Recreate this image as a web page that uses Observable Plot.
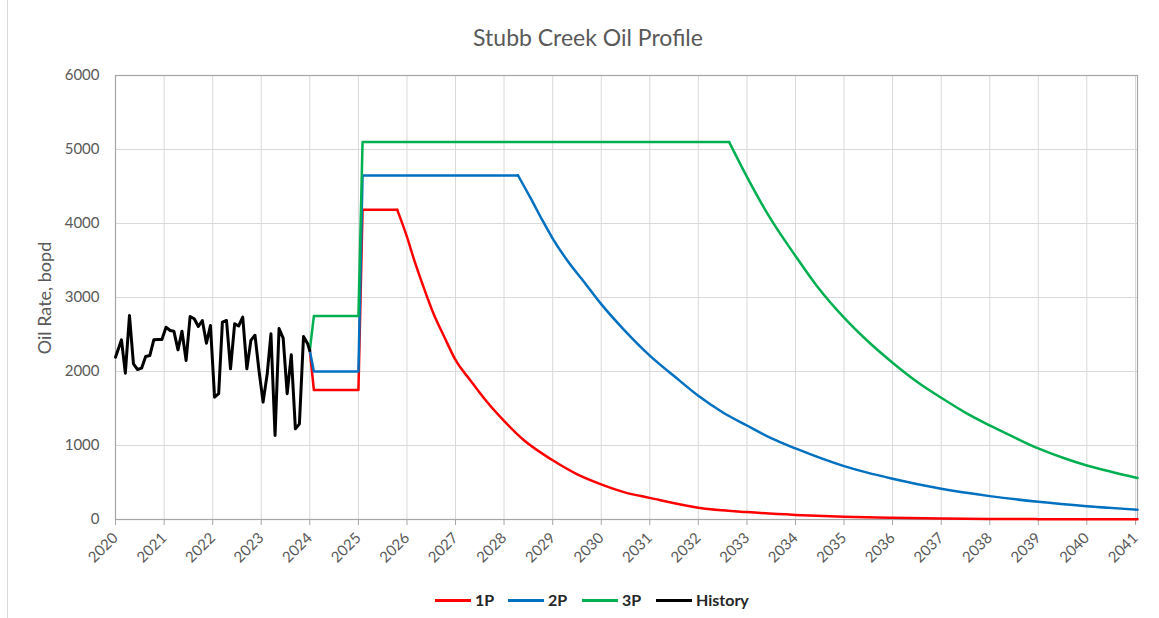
<!DOCTYPE html>
<html>
<head>
<meta charset="utf-8">
<script src="https://cdn.jsdelivr.net/npm/d3@7"></script>
<script src="https://cdn.jsdelivr.net/npm/@observablehq/plot@0.6"></script>
<style>
  html, body { margin: 0; padding: 0; background: #ffffff; }
  #chart { position: relative; width: 1159px; height: 618px; overflow: hidden; font-family: Lato, "Open Sans", sans-serif; background: #fff; }
  #title { position: absolute; left: 0; top: 23px; width: 1176px; text-align: center; font-size: 23px; color: #595959; line-height: normal; }
  #plot { position: absolute; left: 0; top: 60px; }
  #ylabel { position: absolute; left: 44px; top: 298px; transform: translate(-50%, -50%) rotate(-90deg); font-size: 18px; color: #595959; white-space: nowrap; }
  .item { position: absolute; top: 590px; display: flex; align-items: center; font-size: 16px; font-weight: bold; color: #262626; line-height: 20px; }
  .swatch { width: 36px; height: 3px; margin-right: 4px; }
  #edge { position: absolute; left: 7px; top: 0; width: 0; height: 618px; border-left: 1px solid #d9d9d9; }
</style>
</head>
<body>
<div id="chart">
  <div id="edge"></div>
  <div id="title"></div>
  <div id="plot"></div>
  <div id="ylabel"></div>
  <div id="legend"></div>
</div>
<script>
const chartTitle = "Stubb Creek Oil Profile";
const yAxisTitle = "Oil Rate, bopd";

const seriesNames = ["1P", "2P", "3P", "History"];
const seriesColors = ["#FF0000", "#0070C0", "#00B050", "#000000"];
const legendLeft = [435, 508, 582, 656];

const yTicks = [0, 1000, 2000, 3000, 4000, 5000, 6000];
const xTickYears = [2020, 2021, 2022, 2023, 2024, 2025, 2026, 2027, 2028, 2029, 2030,
                    2031, 2032, 2033, 2034, 2035, 2036, 2037, 2038, 2039, 2040, 2041];
const xDomain = ["2020-01-01", "2041-01-16"];

const historyDates = [
  "2020-01-01","2020-02-15","2020-03-15","2020-04-15","2020-05-15","2020-06-15",
  "2020-07-15","2020-08-15","2020-09-15","2020-10-15","2020-11-15","2020-12-15",
  "2021-01-15","2021-02-15","2021-03-15","2021-04-15","2021-05-15","2021-06-15",
  "2021-07-15","2021-08-15","2021-09-15","2021-10-15","2021-11-15","2021-12-15",
  "2022-01-15","2022-02-15","2022-03-15","2022-04-15","2022-05-15","2022-06-15",
  "2022-07-15","2022-08-15","2022-09-15","2022-10-15","2022-11-15","2022-12-15",
  "2023-01-15","2023-02-15","2023-03-15","2023-04-15","2023-05-15","2023-06-15",
  "2023-07-15","2023-08-15","2023-09-15","2023-10-15","2023-11-15","2023-12-15",
  "2024-01-01"
];
const historyRate = [
  2194, 2428, 1977, 2757, 2104, 2027, 2045, 2203, 2216, 2428, 2432, 2432,
  2599, 2554, 2545, 2293, 2545, 2149, 2743, 2712, 2608, 2689, 2383, 2622,
  1653, 1700, 2667, 2689, 2036, 2644, 2615, 2734, 2036, 2420, 2490, 2014,
  1586, 1968, 2509, 1135, 2580, 2450, 1700, 2225, 1225, 1293, 2473, 2380,
  2284
];

const p1Dates = [
  "2024-01-01","2024-02-01","2025-01-01","2025-02-01","2025-10-20","2026-01-01",
  "2026-03-01","2026-05-10","2026-07-20","2026-10-10","2027-01-01","2027-04-25",
  "2027-08-25","2028-01-01","2028-05-30","2029-01-01","2029-07-05","2030-01-01",
  "2030-06-20","2031-01-01","2032-01-01","2033-01-01","2034-01-01","2035-01-01",
  "2036-01-01","2037-01-01","2038-01-01","2039-01-01","2040-01-01","2041-01-16"
];
const p1Rate = [
  2284, 1750, 1750, 4185, 4185, 3820,
  3480, 3119, 2780, 2463, 2156, 1876,
  1591, 1333, 1070, 800, 610, 475,
  370, 292, 160, 100, 62, 36,
  22, 13, 8, 5, 3, 2
];

const p2Dates = [
  "2024-01-01","2024-02-01","2025-01-01","2025-02-01","2028-04-15","2028-07-20",
  "2028-10-15","2029-01-01","2029-04-25","2029-08-25","2030-01-01","2030-06-25",
  "2031-01-01","2031-07-05","2032-01-01","2032-07-01","2033-01-01","2033-07-01",
  "2034-01-01","2035-01-01","2036-01-01","2037-01-01","2038-01-01","2039-01-01",
  "2040-01-01","2041-01-16"
];
const p2Rate = [
  2284, 2000, 2000, 4650, 4650, 4339,
  4045, 3797, 3490, 3210, 2910, 2556,
  2215, 1935, 1672, 1450, 1270, 1100,
  960, 721, 550, 415, 316, 239,
  180, 133
];

const p3Dates = [
  "2024-01-01","2024-02-01","2025-01-01","2025-02-01","2032-08-20","2032-12-15",
  "2033-06-20","2034-01-01","2034-06-15","2035-01-01","2035-07-01","2036-01-01",
  "2036-07-10","2037-01-01","2037-07-01","2038-01-01","2038-07-01","2039-01-01",
  "2039-07-05","2040-01-01","2040-07-01","2041-01-16"
];
const p3Rate = [
  2284, 2750, 2750, 5100, 5100, 4688,
  4085, 3561, 3145, 2727, 2405, 2119,
  1852, 1645, 1445, 1271, 1113, 960,
  834, 730, 645, 560
];

// date at which each forecast leaves its plateau and starts declining
const plateauEnd = {"1P": "2025-10-20", "2P": "2028-04-15", "3P": "2032-08-20"};

const parse = d3.utcParse("%Y-%m-%d");
function rowsOf(name, dates, values) {
  return dates.map((d, i) => ({series: name, date: parse(d), rate: values[i]}));
}
const forecastRows = [
  ...rowsOf("1P", p1Dates, p1Rate),
  ...rowsOf("2P", p2Dates, p2Rate),
  ...rowsOf("3P", p3Dates, p3Rate)
];
const buildUpRows = forecastRows.filter(d => d.date <= parse(plateauEnd[d.series]));
const declineRows = forecastRows.filter(d => d.date >= parse(plateauEnd[d.series]));
const historyRows = rowsOf("History", historyDates, historyRate);
const xTicks = xTickYears.map(y => new Date(Date.UTC(y, 0, 1)));

const plot = Plot.plot({
  width: 1159,
  height: 519,
  marginLeft: 115,
  marginRight: 22,
  marginTop: 15,
  marginBottom: 60,
  style: {fontFamily: "Lato, 'Open Sans', sans-serif", fontSize: "15px", background: "transparent", overflow: "visible"},
  x: {type: "utc", domain: xDomain.map(parse)},
  y: {domain: [0, 6000]},
  color: {domain: seriesNames, range: seriesColors},
  marks: [
    Plot.gridY(yTicks, {stroke: "#d9d9d9", strokeOpacity: 1, strokeWidth: 1}),
    Plot.gridX(xTicks, {stroke: "#d9d9d9", strokeOpacity: 1, strokeWidth: 1}),
    Plot.frame({stroke: "#a6a6a6", strokeWidth: 1.2}),
    Plot.axisY(yTicks, {tickSize: 0, tickPadding: 16, fill: "#595959", label: null, fontSize: 15, tickFormat: d3.format("d")}),
    Plot.axisX(xTicks, {tickFormat: d3.utcFormat("%Y"), tickRotate: -45, tickSize: 6, tickPadding: 10,
                        stroke: "#a6a6a6", fill: "#595959", label: null, fontSize: 15}),
    Plot.line(buildUpRows, {x: "date", y: "rate", z: "series", stroke: "series", strokeWidth: 2.5, strokeLinejoin: "round"}),
    Plot.line(declineRows, {x: "date", y: "rate", z: "series", stroke: "series", strokeWidth: 2.5, strokeLinejoin: "round", curve: "monotone-x"}),
    Plot.line(historyRows, {x: "date", y: "rate", stroke: "series", strokeWidth: 3, strokeLinejoin: "round"})
  ]
});
document.getElementById("plot").appendChild(plot);
document.getElementById("title").textContent = chartTitle;
document.getElementById("ylabel").textContent = yAxisTitle;

const legend = document.getElementById("legend");
seriesNames.forEach((name, i) => {
  const item = document.createElement("div");
  item.className = "item";
  item.style.left = legendLeft[i] + "px";
  const sw = document.createElement("div");
  sw.className = "swatch";
  sw.style.background = seriesColors[i];
  const label = document.createElement("span");
  label.textContent = name;
  item.appendChild(sw);
  item.appendChild(label);
  legend.appendChild(item);
});
</script>
</body>
</html>
